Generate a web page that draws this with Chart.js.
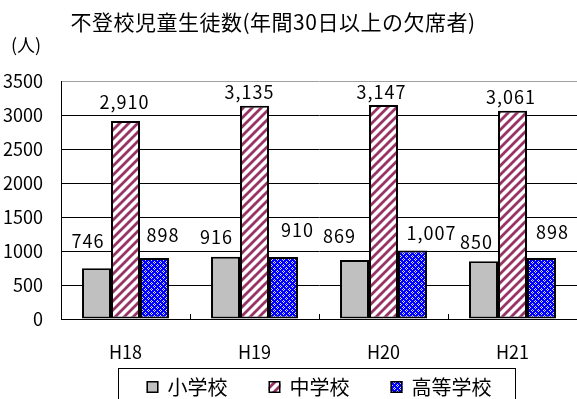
<!DOCTYPE html>
<html lang="ja">
<head>
<meta charset="utf-8">
<title>不登校児童生徒数</title>
<script src="https://cdn.jsdelivr.net/npm/chart.js@4/dist/chart.umd.min.js"></script>
<style>
  html, body { margin: 0; padding: 0; background: #fff; }
  canvas { display: block; }
</style>
</head>
<body>
<canvas id="chart" width="577" height="399"></canvas>
<script>
// --- DATA ---
const years = ['H18', 'H19', 'H20', 'H21'];
const elementary = [746, 916, 869, 850];
const juniorHigh = [2910, 3135, 3147, 3061];
const highSchool = [898, 910, 1007, 898];
const seriesNames = ['小学校', '中学校', '高等学校'];
const yTickValues = [0, 500, 1000, 1500, 2000, 2500, 3000, 3500];

const FONT = '"Noto Sans CJK JP", "Noto Sans", sans-serif';

// --- FILL PATTERNS ---
const makePattern = (size, paint) => {
    const c = document.createElement('canvas');
    c.width = size;
    c.height = size;
    const g = c.getContext('2d');
    paint(g, size);
    return g.createPattern(c, 'repeat');
};

// maroon upward diagonal stripes on white
const stripes = makePattern(9, (g, n) => {
    g.fillStyle = '#fff';
    g.fillRect(0, 0, n, n);
    g.strokeStyle = '#993366';
    g.lineWidth = 2.8;
    g.beginPath();
    for (const off of [-n, 0, n]) {
        g.moveTo(off - 2, n + 2);
        g.lineTo(off + n + 2, -2);
    }
    g.stroke();
});

// blue with a lattice of small white diamonds
const lattice = makePattern(6, (g, n) => {
    g.fillStyle = '#0000ff';
    g.fillRect(0, 0, n, n);
    g.fillStyle = 'rgba(255,255,255,0.85)';
    [[1, 0], [0, 1], [2, 1], [1, 2], [4, 3], [3, 4], [5, 4], [4, 5]]
        .forEach(([x, y]) => g.fillRect(x, y, 1, 1));
});

const fills = ['#c0c0c0', stripes, lattice];

// --- PLUGINS ---
const headerText = {
    id: 'headerText',
    afterDraw(chart) {
        const ctx = chart.ctx;
        ctx.save();
        ctx.fillStyle = '#000';
        ctx.textAlign = 'center';
        ctx.textBaseline = 'middle';
        ctx.font = `21px ${FONT}`;
        ctx.letterSpacing = '0.5px';
        ctx.fillText('不登校児童生徒数(年間30日以上の欠席者)', 273, 22);
        ctx.letterSpacing = '0px';
        ctx.font = `18px ${FONT}`;
        ctx.fillText('(人)', 26, 45);
        ctx.restore();
    }
};

// small inward ticks between categories on the x axis
const categoryTicks = {
    id: 'categoryTicks',
    afterDatasetsDraw(chart) {
        const { ctx, chartArea, scales: { x } } = chart;
        const step = x.width / years.length;
        ctx.save();
        ctx.strokeStyle = '#000';
        ctx.lineWidth = 1;
        ctx.beginPath();
        for (let i = 1; i < years.length; i++) {
            const px = Math.round(x.left + step * i) + 0.5;
            ctx.moveTo(px, chartArea.bottom);
            ctx.lineTo(px, chartArea.bottom - 5);
        }
        ctx.stroke();
        ctx.restore();
    }
};

const valueLabels = {
    id: 'valueLabels',
    afterDatasetsDraw(chart, args, opts) {
        const ctx = chart.ctx;
        ctx.save();
        ctx.fillStyle = '#000';
        ctx.textAlign = 'center';
        ctx.textBaseline = 'middle';
        ctx.font = `18px ${FONT}`;
        ctx.letterSpacing = '1px';
        chart.data.datasets.forEach((ds, di) => {
            chart.getDatasetMeta(di).data.forEach((bar, i) => {
                const [dx, dy] = opts.offsets[di][i];
                ctx.fillText(ds.data[i].toLocaleString('en-US'), bar.x + dx, bar.y + dy);
            });
        });
        ctx.restore();
    }
};

const boxedLegend = {
    id: 'boxedLegend',
    afterDraw(chart, args, opts) {
        const ctx = chart.ctx;
        const { box, centerX, centerY, gap, swatch } = opts;
        ctx.save();
        ctx.strokeStyle = '#000';
        ctx.lineWidth = 1;
        ctx.strokeRect(box.x + 0.5, box.y + 0.5, box.w, box.h);

        ctx.font = `20px ${FONT}`;
        ctx.textBaseline = 'middle';
        ctx.textAlign = 'left';
        const items = chart.data.datasets.map(ds => ({
            label: ds.label,
            fill: ds.backgroundColor,
            w: swatch + 9 + ctx.measureText(ds.label).width
        }));
        const total = items.reduce((s, it) => s + it.w, 0) + gap * (items.length - 1);
        let x = centerX - total / 2;
        items.forEach(it => {
            const top = Math.round(centerY - swatch / 2);
            ctx.fillStyle = it.fill;
            ctx.fillRect(x, top, swatch, swatch);
            ctx.lineWidth = 1.5;
            ctx.strokeRect(x + 0.75, top + 0.75, swatch - 1.5, swatch - 1.5);
            ctx.fillStyle = '#000';
            ctx.fillText(it.label, x + swatch + 9, centerY);
            x += it.w + gap;
        });
        ctx.restore();
    }
};

// --- CHART ---
const seriesData = [elementary, juniorHigh, highSchool];

new Chart(document.getElementById('chart'), {
    type: 'bar',
    data: {
        labels: years,
        datasets: seriesData.map((values, i) => ({
            label: seriesNames[i],
            data: values,
            backgroundColor: fills[i],
            borderColor: '#000',
            borderWidth: 2,
            borderSkipped: false,
            categoryPercentage: 0.674,
            barPercentage: 1
        }))
    },
    options: {
        responsive: false,
        animation: false,
        devicePixelRatio: 1,
        layout: { padding: { top: 81, right: 0, bottom: 0, left: 0 } },
        font: { family: FONT },
        plugins: {
            legend: { display: false },
            title: { display: false },
            tooltip: { enabled: false },
            valueLabels: {
                offsets: [
                    [[-8.5, -27], [-9, -20], [-15, -24], [-7, -19]],
                    [[-1, -19], [-5, -14], [-2, -13], [-1.5, -14]],
                    [[8.5, -23], [14, -27], [19, -17.5], [11, -26]]
                ]
            },
            boxedLegend: {
                box: { x: 118, y: 368, w: 397, h: 40 },
                centerX: 319,
                centerY: 387,
                gap: 41,
                swatch: 12
            }
        },
        scales: {
            x: {
                grid: { display: false, drawTicks: false },
                border: { display: true, color: '#000', width: 1 },
                ticks: {
                    color: '#000',
                    padding: 22,
                    font: { family: FONT, size: 18 }
                },
                afterFit(scale) { scale.height = 80; }
            },
            y: {
                min: 0,
                max: 3500,
                afterBuildTicks(scale) {
                    scale.ticks = yTickValues.map(v => ({ value: v }));
                },
                grid: {
                    drawTicks: false,
                    color: ctx => (ctx.tick && ctx.tick.value === 3500 ? '#a0a0a0' : '#000'),
                    lineWidth: 1
                },
                border: { display: true, color: '#000', width: 1 },
                ticks: {
                    color: '#000',
                    padding: 18,
                    font: { family: FONT, size: 18 },
                    callback: value => String(value)
                },
                afterFit(scale) { scale.width = 61; }
            }
        }
    },
    plugins: [headerText, categoryTicks, valueLabels, boxedLegend]
});
</script>
</body>
</html>
